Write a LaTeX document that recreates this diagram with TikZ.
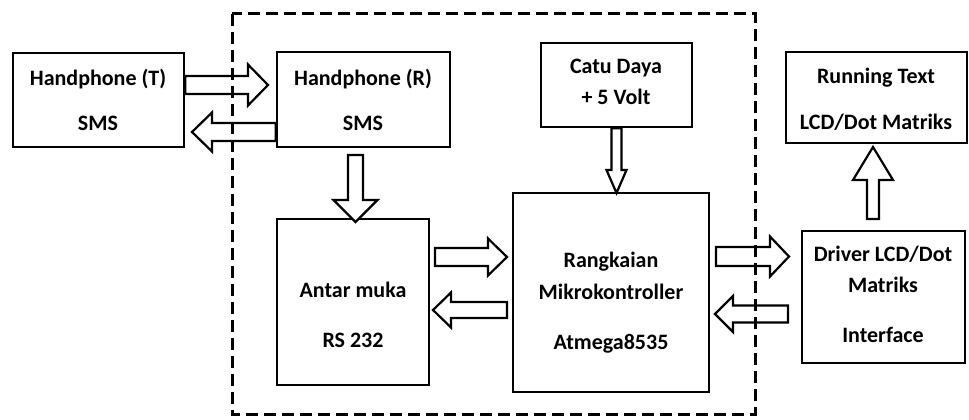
\documentclass[tikz,border=0pt]{standalone}
\usepackage{fontspec}
\setmainfont{Carlito}
\usetikzlibrary{calc}
\tikzset{
  box/.style={draw=black, line width=2.4pt, fill=white, inner sep=0pt},
  lbl/.style={font=\bfseries\fontsize{22}{24}\selectfont, anchor=base, inner sep=0pt},
  barrow/.style={draw=black, line width=2.2pt, fill=white, line join=miter},
  dashbox/.style={draw=black, line width=3pt, dash pattern=on 12pt off 6pt}
}
% block arrow from coordinate #1 to coordinate #2; shaft half-width #3, head half-width #4, head length #5
\newcommand\blockarr[5]{%
  \coordinate (hb) at ($(#2)!#5pt!(#1)$);
  \draw[barrow] ($(#1)!#3pt!90:(#2)$) -- ($(hb)!#3pt!-90:(#1)$) -- ($(hb)!#4pt!-90:(#1)$)
    -- (#2) -- ($(hb)!#4pt!90:(#1)$) -- ($(hb)!#3pt!90:(#1)$) -- ($(#1)!#3pt!-90:(#2)$) -- cycle;
}
\begin{document}
\begin{tikzpicture}[x=1pt,y=-1pt]
\useasboundingbox[fill=white] (0,0) rectangle (969,420);
% boxes
\node[box, minimum width=171pt, minimum height=94pt] (hpt) at (98.5,100) {};
\node[box, minimum width=173pt, minimum height=95pt] (hpr) at (363.5,99.5) {};
\node[box, minimum width=151pt, minimum height=84pt] (catu) at (616.5,85) {};
\node[box, minimum width=181pt, minimum height=91pt] (run) at (876.5,97.5) {};
\node[box, minimum width=152pt, minimum height=166pt] (antar) at (353,302) {};
\node[box, minimum width=196pt, minimum height=199pt] (mcu) at (611,292.5) {};
\node[box, minimum width=163pt, minimum height=132pt] (drv) at (883.5,297) {};
% texts
\node[lbl] (hpt1) at (98,85) {Handphone (T)};
\node[lbl] (hpt2) at (98,130) {SMS};
\node[lbl] (hpr1) at (363,85) {Handphone (R)};
\node[lbl] (hpr2) at (363,130) {SMS};
\node[lbl] (catu1) at (616,74) {Catu Daya};
\node[lbl] (catu2) at (616,104) {+ 5 Volt};
\node[lbl] (run1) at (876,83) {Running Text};
\node[lbl] (run2) at (876,129) {LCD/Dot Matriks};
\node[lbl] (antar1) at (353,297) {Antar muka};
\node[lbl] (antar2) at (353,347) {RS 232};
\node[lbl] (mcu1) at (611,267) {Rangkaian};
\node[lbl] (mcu2) at (611,299) {Mikrokontroller};
\node[lbl] (mcu3) at (611,349) {Atmega8535};
\node[lbl] (drv1) at (883,261) {Driver LCD/Dot};
\node[lbl] (drv2) at (883,292) {Matriks};
\node[lbl] (drv3) at (883,342) {Interface};
% arrow end points
\coordinate (a1s) at (hpt.east |- 0,85);  \coordinate (a1e) at (268,85);
\coordinate (a2s) at (hpr.west |- 0,132); \coordinate (a2e) at (192,132);
\coordinate (a3s) at (355.5,155);         \coordinate (a3e) at (355.5,222);
\coordinate (a4s) at (catu.south);        \coordinate (a4e) at (616.5,193);
\coordinate (a5s) at (873,219);           \coordinate (a5e) at (873,147);
\coordinate (a6s) at (435,257);           \coordinate (a6e) at (507,257);
\coordinate (a7s) at (507,310);           \coordinate (a7e) at (433,310);
\coordinate (a8s) at (716,256.5);         \coordinate (a8e) at (789,256.5);
\coordinate (a9s) at (788,314);           \coordinate (a9e) at (715,314);
% block arrows
\blockarr{a1s}{a1e}{9}{20.5}{20}
\blockarr{a2s}{a2e}{9}{19.5}{20}
\blockarr{a3s}{a3e}{7.5}{22}{22}
\blockarr{a4s}{a4e}{5}{10}{23}
\blockarr{a5s}{a5e}{6}{20}{33}
\blockarr{a6s}{a6e}{9}{18.5}{19}
\blockarr{a7s}{a7e}{8}{17.5}{18}
\blockarr{a8s}{a8e}{9.5}{20}{19}
\blockarr{a9s}{a9e}{8.5}{18}{18}
% dashed system boundary (drawn last: it shows through the arrows)
\draw[dashbox] (232,14) rectangle (755,414);
\end{tikzpicture}
\end{document}
